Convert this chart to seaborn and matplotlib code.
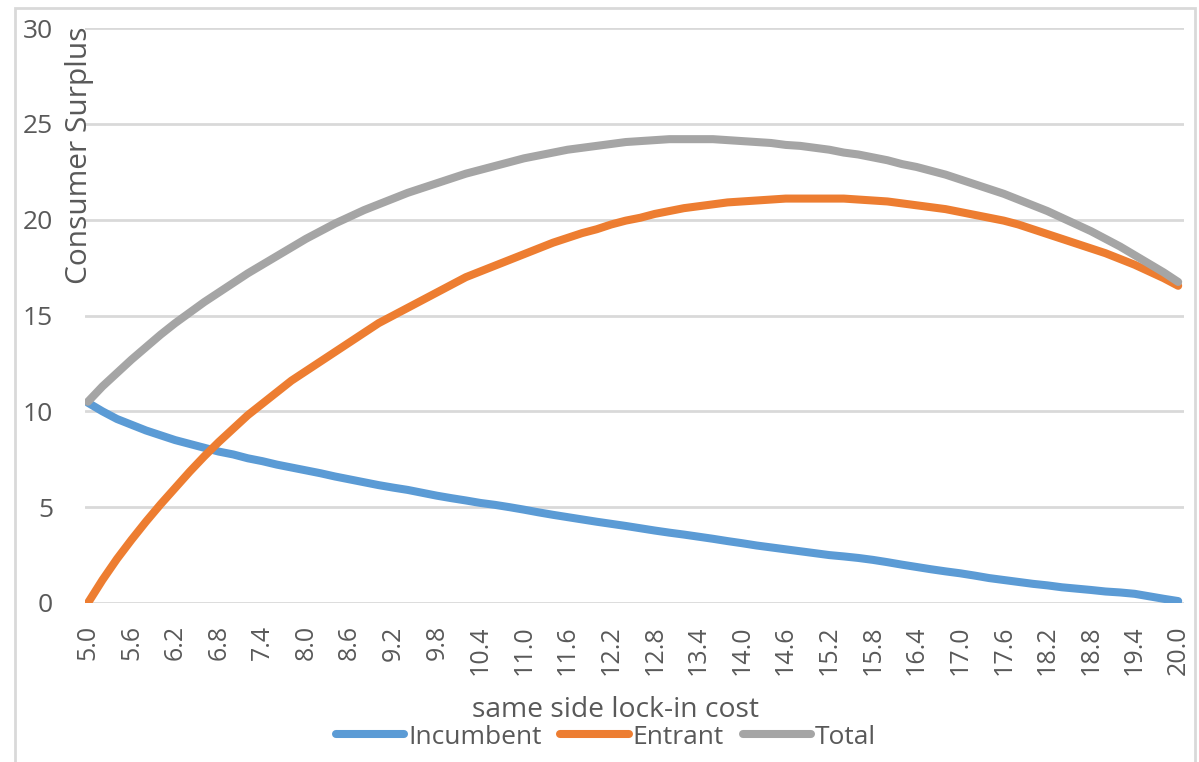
# =======================================
#           IMPORT LIBRARIES
# =======================================
import numpy as np
import pandas as pd
import matplotlib.pyplot as plt
import matplotlib.patches as patches
import seaborn as sns

# =======================================
#           DATA
# =======================================
lock_in_cost = [round(5.0 + 0.2 * k, 1) for k in range(76)]

incumbent = [10.45, 10.0, 9.6, 9.3, 9.0, 8.75, 8.5, 8.3, 8.1, 7.9,
             7.75, 7.55, 7.4, 7.22, 7.07, 6.92, 6.77, 6.6, 6.45, 6.3,
             6.15, 6.02, 5.9, 5.75, 5.6, 5.47, 5.35, 5.22, 5.12, 5.0,
             4.87, 4.73, 4.6, 4.48, 4.36, 4.24, 4.13, 4.02, 3.9, 3.78,
             3.67, 3.57, 3.46, 3.35, 3.23, 3.12, 3.0, 2.9, 2.8, 2.7,
             2.6, 2.5, 2.43, 2.35, 2.25, 2.13, 2.0, 1.88, 1.76, 1.65,
             1.55, 1.43, 1.3, 1.2, 1.1, 1.0, 0.92, 0.82, 0.75, 0.68,
             0.6, 0.55, 0.48, 0.35, 0.22, 0.1]

entrant = [0.0, 1.2, 2.3, 3.3, 4.25, 5.15, 6.0, 6.85, 7.65, 8.4,
           9.1, 9.8, 10.4, 11.0, 11.6, 12.1, 12.6, 13.1, 13.6, 14.1,
           14.6, 15.0, 15.4, 15.8, 16.2, 16.6, 17.0, 17.3, 17.6, 17.9,
           18.2, 18.5, 18.8, 19.05, 19.3, 19.5, 19.75, 19.95, 20.1, 20.3,
           20.45, 20.6, 20.7, 20.8, 20.9, 20.95, 21.0, 21.05, 21.1, 21.1,
           21.1, 21.1, 21.1, 21.05, 21.0, 20.95, 20.85, 20.75, 20.65, 20.55,
           20.4, 20.25, 20.1, 19.95, 19.75, 19.5, 19.25, 19.0, 18.75, 18.5,
           18.25, 17.95, 17.65, 17.3, 16.95, 16.55]

total = [10.5, 11.3, 12.0, 12.7, 13.35, 14.0, 14.6, 15.15, 15.7, 16.2,
         16.7, 17.2, 17.65, 18.1, 18.55, 19.0, 19.4, 19.8, 20.15, 20.5,
         20.8, 21.1, 21.4, 21.65, 21.9, 22.15, 22.4, 22.6, 22.8, 23.0,
         23.2, 23.35, 23.5, 23.65, 23.75, 23.85, 23.95, 24.05, 24.1, 24.15,
         24.2, 24.2, 24.2, 24.2, 24.15, 24.1, 24.05, 24.0, 23.9, 23.85,
         23.75, 23.65, 23.5, 23.4, 23.25, 23.1, 22.9, 22.75, 22.55, 22.35,
         22.1, 21.85, 21.6, 21.35, 21.05, 20.75, 20.45, 20.1, 19.75, 19.4,
         19.0, 18.6, 18.15, 17.7, 17.25, 16.75]

series_names = ["Incumbent", "Entrant", "Total"]
colors = ["#5B9BD5", "#ED7D31", "#A5A5A5"]

# =======================================
#           LONG FORMAT TABLE
# =======================================
n = len(lock_in_cost)
df = pd.DataFrame({
    "pos": list(range(n)) * 3,
    "value": incumbent + entrant + total,
    "series": [s for s in series_names for _ in range(n)],
})

# =======================================
#           STYLE
# =======================================
sns.set_theme(style="white")
plt.rcParams["font.family"] = ["Open Sans", "DejaVu Sans"]
text_col = "#595959"
grid_col = "#D9D9D9"

fig = plt.figure(figsize=(11.99, 7.62), dpi=100)
ax = fig.add_axes([85 / 1199, 1 - 603 / 762, (1184 - 85) / 1199, (603 - 28) / 762])

# =======================================
#           LINES
# =======================================
sns.lineplot(data=df, x="pos", y="value", hue="series", hue_order=series_names,
             palette=colors, linewidth=5.8, ax=ax, legend=False,
             solid_capstyle="round")

# =======================================
#           AXES
# =======================================
ax.set_ylim(0, 30)
ax.set_xlim(-0.2, n - 1 + 0.4)
ax.set_yticks(np.arange(0, 31, 5))
ax.set_yticklabels([str(v) for v in range(0, 31, 5)])
ax.yaxis.grid(True, color=grid_col, linewidth=2)
ax.set_axisbelow(True)
for s in ax.spines.values():
    s.set_visible(False)

tick_pos = list(range(0, n, 3))
ax.set_xticks(tick_pos)
ax.set_xticklabels([f"{lock_in_cost[p]:.1f}" for p in tick_pos], rotation=90)
ax.tick_params(axis="x", length=0, pad=16, labelsize=18, labelcolor=text_col)
ax.tick_params(axis="y", length=0, pad=23, labelsize=19, labelcolor=text_col)
ax.set_xlabel("")
ax.set_ylabel("")

fig.text(80 / 1199, 1 - 155 / 762, "Consumer Surplus", rotation=90,
         ha="center", va="center", fontsize=21.5, color=text_col)
fig.text(615 / 1199, 1 - 710 / 762, "same side lock-in cost",
         ha="center", va="center", fontsize=20.3, color=text_col)

# =======================================
#           LEGEND
# =======================================
handles = [plt.Line2D([], [], color=c, linewidth=5.8, solid_capstyle="round") for c in colors]
leg = fig.legend(handles, series_names, loc="center", bbox_to_anchor=(606 / 1199, 1 - 737 / 762),
                 ncol=3, frameon=False, fontsize=19, handlelength=2.6,
                 handletextpad=0.15, columnspacing=0.7, borderaxespad=0)
for t in leg.get_texts():
    t.set_color(text_col)

# =======================================
#           CHART BORDER
# =======================================
fig.patches.append(patches.Rectangle((15 / 1199, -0.05), (1195 - 15) / 1199, 1.05 - 8 / 762,
                                     transform=fig.transFigure, fill=False,
                                     edgecolor=grid_col, linewidth=2))

fig.savefig("out.png", dpi=100)
